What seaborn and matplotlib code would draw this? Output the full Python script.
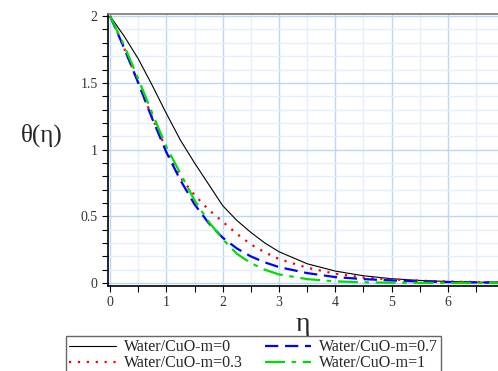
import seaborn as sns
import matplotlib.pyplot as plt
import pandas as pd
from matplotlib.ticker import MultipleLocator

# eta-Stuetzstellen und Temperaturprofile theta(eta)
eta = [0, 0.25, 0.5, 0.75, 1, 1.25, 1.5, 1.75, 2, 2.25, 2.5, 2.75, 3,
       3.5, 4, 4.5, 5, 5.5, 6, 6.5, 7]
theta_m0 = [2.0, 1.85, 1.68, 1.48, 1.27, 1.07, 0.90, 0.74, 0.58, 0.47, 0.38, 0.30, 0.235,
            0.145, 0.09, 0.055, 0.033, 0.02, 0.012, 0.007, 0.004]
theta_m03 = [2.0, 1.76, 1.50, 1.24, 1.00, 0.79, 0.66, 0.55, 0.46, 0.37, 0.29, 0.23, 0.18,
             0.115, 0.07, 0.042, 0.027, 0.018, 0.012, 0.008, 0.005]
theta_m07 = [2.0, 1.76, 1.50, 1.23, 0.98, 0.77, 0.59, 0.45, 0.34, 0.26, 0.20, 0.155, 0.12,
             0.075, 0.045, 0.03, 0.02, 0.012, 0.008, 0.005, 0.003]
theta_m1 = [2.0, 1.78, 1.53, 1.27, 1.02, 0.82, 0.62, 0.46, 0.33, 0.22, 0.15, 0.10, 0.065,
            0.03, 0.013, 0.006, 0.003, 0.002, 0.001, 0.001, 0.0]

labels = ['Water/CuO-m=0', 'Water/CuO-m=0.3', 'Water/CuO-m=0.7', 'Water/CuO-m=1']
serien = [theta_m0, theta_m03, theta_m07, theta_m1]
farben = ['black', 'red', 'blue', '#00dd00']
stile = ['-', (0, (1, 3)), (0, (6, 3)), (0, (9, 3, 2, 3))]
breiten = [0.8, 1.6, 1.6, 1.6]

sns.set_style('white')
plt.rcParams['font.family'] = ['Liberation Serif', 'DejaVu Serif']

fig = plt.figure(figsize=(4.98, 3.71), dpi=100)
ax = fig.add_axes([0.217, 0.229, 0.783, 0.733])

for lab, werte, f, ls, lw in zip(labels, serien, farben, stile, breiten):
    df = pd.DataFrame({'eta': eta, 'theta': werte})
    sns.lineplot(data=df, x='eta', y='theta', ax=ax, color=f, linestyle=ls,
                 linewidth=lw, label=lab, legend=False)

ax.set_xlim(-0.036, 6.89)
ax.set_ylim(-0.022, 2.015)
ax.xaxis.set_major_locator(MultipleLocator(1))
ax.xaxis.set_minor_locator(MultipleLocator(0.5))
ax.yaxis.set_major_locator(MultipleLocator(0.5))
ax.yaxis.set_minor_locator(MultipleLocator(0.1))
ax.yaxis.set_major_formatter(plt.FuncFormatter(lambda v, p: f'{v:g}'))

ax.grid(which='major', color='#b5d8fb', linewidth=1.0)
ax.grid(which='minor', color='#e3effc', linewidth=1.0)
ax.set_axisbelow(True)

ax.tick_params(which='both', direction='out', length=4, width=0.8, color='black',
               bottom=True, left=True, labelsize=10, labelcolor='#333333')
ax.spines['right'].set_visible(False)
ax.spines['top'].set_color('#777777')
for s in ['top', 'left', 'bottom']:
    ax.spines[s].set_linewidth(1.2)
ax.spines['left'].set_color('black')
ax.spines['bottom'].set_color('black')

ax.set_xlabel('η', fontsize=20, labelpad=2)
ax.set_ylabel('')
fig.text(42 / 498, 1 - 135 / 371, 'θ(η)', fontsize=18, ha='center', va='center')

h, l = ax.get_legend_handles_labels()
fig.legend(h, l, ncol=2, loc='upper left', bbox_to_anchor=(0.133, 0.094), fontsize=11.5,
           frameon=True, fancybox=False, edgecolor='#666666', framealpha=1,
           handlelength=2.9, borderpad=0.2, labelspacing=0.0, columnspacing=1.4,
           handletextpad=0.5, borderaxespad=0)

plt.savefig('out.png', dpi=100)
